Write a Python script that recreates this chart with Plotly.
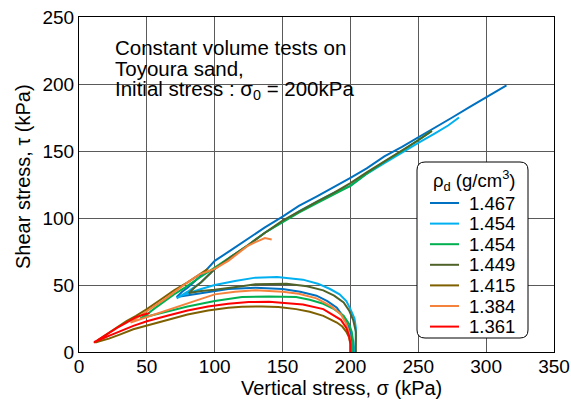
import plotly.graph_objects as go

# ---- data ----
labels = ["1.467", "1.454", "1.454", "1.449", "1.415", "1.384", "1.361"]
colors = ["#0070C0", "#00B0F0", "#00B050", "#4F6228", "#7F6000", "#F4823C", "#FF0000"]

sig_1467 = [201, 201, 199, 195, 190, 183, 175, 163, 150, 130, 110, 90, 80, 75, 72, 76, 80, 90, 100, 112, 125, 137, 150, 162, 175, 188, 200, 212, 225, 238, 250, 262, 275, 288, 300, 308, 315]
tau_1467 = [0, 10, 18, 26, 33, 38, 42, 45, 47, 48, 47, 44, 42.5, 41.5, 41, 45, 48, 57, 68, 76, 85, 93, 101, 109, 116, 123, 130, 137, 146, 153, 160, 167, 175, 183, 190, 195, 199]

sig_1454a = [203, 204, 204, 203, 200, 197, 192, 185, 176, 165, 146, 130, 115, 100, 90, 80, 75, 72, 76, 80, 90, 100, 112, 125, 137, 150, 162, 175, 188, 200, 212, 225, 238, 250, 262, 272, 280]
tau_1454a = [0, 10, 18, 25, 32, 38, 43, 47, 51, 54, 56, 55.5, 53, 50, 47, 43.5, 42, 40, 42.5, 45, 52, 62, 71, 80, 89, 97, 105, 112, 119, 124, 133, 141, 149, 156, 163, 169, 175]

sig_1454b = [202, 202, 201, 199, 195, 188, 180, 170, 160, 140, 120, 100, 80, 65, 55, 48, 45, 50, 55, 62, 70, 78, 85, 100, 112, 125, 137, 150, 162, 175, 188, 200, 212, 225, 238, 250, 260]
tau_1454b = [0, 8, 15, 21, 27, 32, 36, 39, 41, 41.5, 41, 38, 34, 30.5, 28, 26, 25, 28, 32, 37, 43, 48, 53, 63, 71, 80, 89, 97, 104, 111, 118, 124, 133, 142, 150, 158, 165]

sig_1449 = [204, 204, 204, 202, 199, 195, 188, 180, 168, 153, 140, 130, 120, 110, 100, 90, 84, 81, 85, 90, 100, 112, 125, 137, 150, 162, 175, 188, 200, 212, 225, 238, 250, 260]
tau_1449 = [0, 8, 15, 24, 31, 37, 42, 46, 49, 51, 51, 50.5, 49, 47.5, 46.5, 45.5, 44.5, 44, 48, 52, 62, 71, 80, 89, 98, 105, 112, 119, 126, 134, 142, 150, 158, 165]

sig_1415 = [200, 200, 199, 197, 194, 190, 180, 170, 160, 147, 135, 120, 110, 95, 80, 65, 50, 40, 30, 22, 15, 12, 14, 20, 28, 35, 42, 50, 60, 70, 80, 88, 95]
tau_1415 = [0, 6, 11, 15, 19, 22, 27, 30, 32, 33.5, 34, 33.8, 33, 31, 28, 24, 20, 17, 13, 10, 8, 7, 9, 13, 18, 23, 27, 32, 39, 46, 52, 57, 62]

sig_1384 = [200, 200, 199, 197, 193, 186, 175, 162, 150, 130, 115, 100, 85, 70, 58, 47, 40, 38, 42, 48, 56, 64, 72, 80, 89, 100, 110, 119, 124, 130, 137, 142]
tau_1384 = [0, 7, 14, 21, 28, 34, 40, 43.5, 45, 46, 45, 43, 38, 33, 29, 25, 22.5, 22, 25, 29, 35, 40, 46, 52, 58, 62, 68, 75, 79, 82, 85, 84]

sig_1361 = [200, 200, 199, 197, 193, 187, 180, 165, 150, 140, 125, 110, 95, 80, 65, 50, 40, 30, 22, 15, 12, 11, 14, 20, 28, 35, 42, 48, 52]
tau_1361 = [0, 6, 12, 18, 24, 28, 32, 35.5, 37, 37.5, 37.3, 36, 34, 31, 27, 23, 19.5, 15, 12, 9, 8, 7, 9, 13, 18, 22, 26, 28, 29]

sigmas = [sig_1467, sig_1454a, sig_1454b, sig_1449, sig_1415, sig_1384, sig_1361]
taus = [tau_1467, tau_1454a, tau_1454b, tau_1449, tau_1415, tau_1384, tau_1361]

x_ticks = [0, 50, 100, 150, 200, 250, 300, 350]
y_ticks = [0, 50, 100, 150, 200, 250]

FONT = "Liberation Sans, Arial, sans-serif"

fig = go.Figure()
for s, t, lab, c in zip(sigmas, taus, labels, colors):
    fig.add_trace(go.Scatter(x=s, y=t, mode="lines", name=lab, showlegend=False,
                             line=dict(color=c, width=2)))

# plot area in pixels: x 79..554, y 17..352
L, R, T, B = 79, 17, 17, 51
W, H = 571, 403
pw, ph = W - L - R, H - T - B

def px(x):
    return (x - L) / pw

def py(y):
    return (H - B - y) / ph

# white box behind the text block
fig.add_shape(type="rect", xref="paper", yref="paper",
              x0=px(105), x1=px(362), y0=py(104), y1=py(35),
              fillcolor="white", line=dict(width=0), layer="between")

# rounded legend box
x0, x1, y0, y1 = px(417), px(528), py(338), py(162)
rx, ry = 8 / pw, 8 / ph
path = (f"M {x0+rx},{y1} L {x1-rx},{y1} Q {x1},{y1} {x1},{y1-ry} "
        f"L {x1},{y0+ry} Q {x1},{y0} {x1-rx},{y0} L {x0+rx},{y0} "
        f"Q {x0},{y0} {x0},{y0+ry} L {x0},{y1-ry} Q {x0},{y1} {x0+rx},{y1} Z")
fig.add_shape(type="path", path=path, xref="paper", yref="paper",
              fillcolor="white", line=dict(color="black", width=1), layer="above")

# legend title and entries (drawn manually for exact spacing)
fig.add_annotation(text="ρ<sub>d</sub> (g/cm<sup>3</sup>)", xref="paper", yref="paper",
                   x=px(474), y=py(181), xanchor="center", yanchor="middle",
                   showarrow=False, font=dict(family=FONT, size=18.5, color="black"))
for i, (lab, c) in enumerate(zip(labels, colors)):
    yy = py(203 + 20.6 * i)
    fig.add_shape(type="line", xref="paper", yref="paper",
                  x0=px(430), x1=px(459), y0=yy, y1=yy,
                  line=dict(color=c, width=2), layer="above")
    fig.add_annotation(text=lab, xref="paper", yref="paper",
                       x=px(467), y=yy, xanchor="left", yanchor="middle",
                       showarrow=False, font=dict(family=FONT, size=18.5, color="black"))

lines = ["Constant volume tests on", "Toyoura sand,",
         "Initial stress : σ<sub>0</sub> = 200kPa"]
for i, txt in enumerate(lines):
    fig.add_annotation(text=txt, xref="paper", yref="paper",
                       x=px(113), y=py(47 + 21.7 * i), xanchor="left", yanchor="middle",
                       showarrow=False, font=dict(family=FONT, size=20.5, color="black"))

# axis titles
fig.add_annotation(text="Vertical stress, σ (kPa)", xref="paper", yref="paper",
                   x=px(341), y=py(388), xanchor="center", yanchor="middle",
                   showarrow=False, borderpad=0, font=dict(family=FONT, size=20, color="black"))
fig.add_annotation(text="Shear stress, τ (kPa)", xref="paper", yref="paper",
                   x=px(23), y=py(177), xanchor="center", yanchor="middle", textangle=-90,
                   showarrow=False, font=dict(family=FONT, size=20, color="black"))

fig.update_layout(
    width=W, height=H,
    margin=dict(l=L, r=R, t=T, b=B, pad=0),
    paper_bgcolor="white", plot_bgcolor="white",
    font=dict(family=FONT, size=18, color="black"),
    showlegend=False,
)
fig.update_xaxes(range=[0, 350], tickvals=x_ticks, showgrid=True, automargin=False,
                 gridcolor="#5a5a5a", gridwidth=1, zeroline=False,
                 showline=True, linecolor="black", linewidth=1, mirror=True,
                 ticks="", tickfont=dict(size=19), ticklabelstandoff=-3)
fig.update_yaxes(range=[0, 250], tickvals=y_ticks, showgrid=True, automargin=False,
                 gridcolor="#5a5a5a", gridwidth=1, zeroline=False,
                 showline=True, linecolor="black", linewidth=1, mirror=True,
                 ticks="", tickfont=dict(size=19))

fig.write_html("out.html")
